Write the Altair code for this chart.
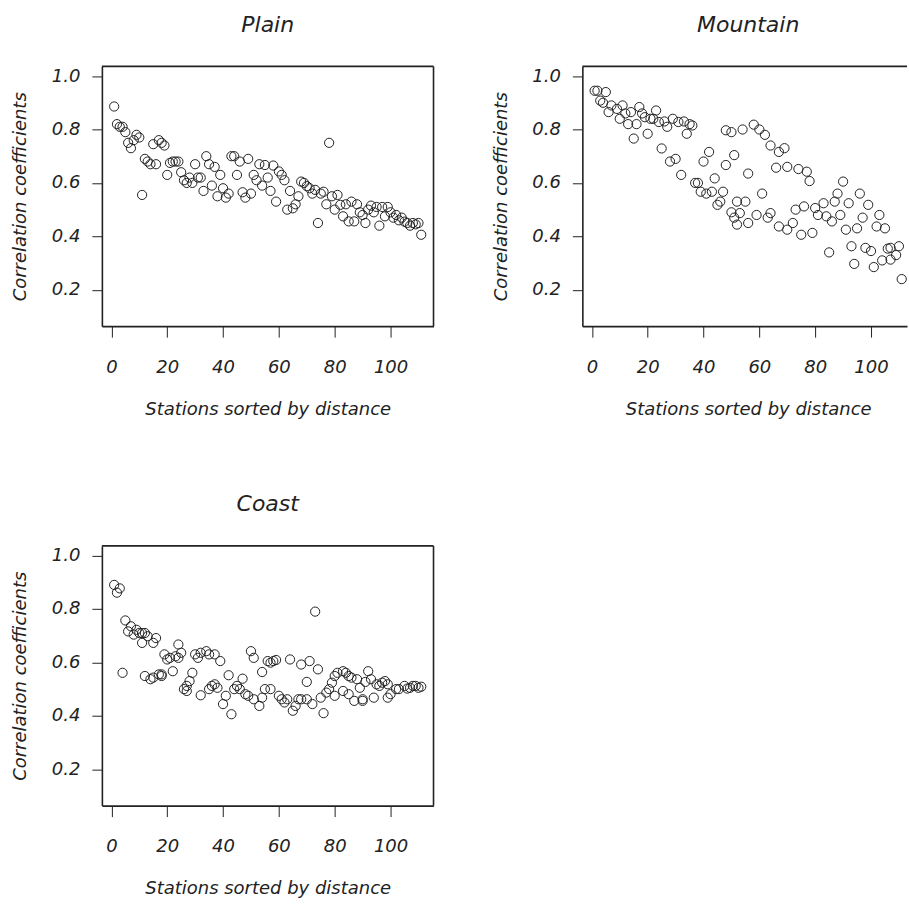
import altair as alt
import pandas as pd

# Correlation of each station with the reference series, stations ordered by distance
plain_station = list(range(1, 112))
plain_corr = [
    0.886, 0.82, 0.81, 0.81, 0.79, 0.75, 0.73, 0.76, 0.78, 0.77,
    0.555, 0.69, 0.68, 0.67, 0.745, 0.67, 0.76, 0.75, 0.74, 0.63,
    0.675, 0.68, 0.68, 0.68, 0.64, 0.61, 0.60, 0.62, 0.60, 0.67,
    0.62, 0.62, 0.57, 0.70, 0.67, 0.59, 0.66, 0.55, 0.63, 0.58,
    0.545, 0.56, 0.70, 0.70, 0.63, 0.68, 0.565, 0.545, 0.69, 0.56,
    0.63, 0.61, 0.67, 0.59, 0.667, 0.62, 0.57, 0.665, 0.53, 0.643,
    0.63, 0.61, 0.50, 0.57, 0.505, 0.52, 0.55, 0.605, 0.60, 0.588,
    0.58, 0.56, 0.574, 0.45, 0.56, 0.567, 0.52, 0.75, 0.55, 0.50,
    0.555, 0.518, 0.475, 0.52, 0.456, 0.53, 0.456, 0.52, 0.49, 0.48,
    0.45, 0.50, 0.515, 0.49, 0.51, 0.44, 0.51, 0.475, 0.51, 0.49,
    0.47, 0.48, 0.46, 0.47, 0.455, 0.45, 0.44, 0.45, 0.445, 0.45,
    0.406,
]

mountain_station = [
    1, 2, 3, 4, 5, 6, 7, 9, 10, 11, 12, 13, 14, 15, 16, 17, 18, 19, 20, 21,
    22, 23, 24, 25, 26, 27, 28, 29, 30, 31, 32, 33, 34, 35, 36, 37, 38, 39, 40, 41,
    42, 43, 44, 45, 46, 47, 48, 48, 50, 50, 51, 51, 52, 52, 53, 54, 55, 56, 56, 58,
    59, 60, 61, 62, 63, 64, 64, 66, 67, 67, 69, 70, 70, 72, 73, 74, 75, 76, 77, 78,
    79, 80, 81, 83, 84, 85, 86, 87, 88, 89, 90, 91, 92, 93, 94, 95, 96, 97, 98, 99,
    100, 101, 102, 103, 104, 105, 106, 107, 107, 109, 110, 111,
]
mountain_corr = [
    0.945, 0.945, 0.908, 0.90, 0.94, 0.865, 0.89, 0.877, 0.84, 0.89,
    0.86, 0.82, 0.865, 0.766, 0.82, 0.884, 0.86, 0.846, 0.784, 0.84,
    0.84, 0.871, 0.828, 0.729, 0.83, 0.81, 0.68, 0.84, 0.69, 0.828,
    0.63, 0.83, 0.784, 0.82, 0.815, 0.60, 0.60, 0.567, 0.68, 0.56,
    0.716, 0.567, 0.617, 0.518, 0.53, 0.567, 0.797, 0.667, 0.49, 0.79,
    0.704, 0.47, 0.444, 0.53, 0.487, 0.80, 0.53, 0.635, 0.45, 0.818,
    0.48, 0.80, 0.56, 0.78, 0.47, 0.487, 0.74, 0.657, 0.716, 0.437,
    0.73, 0.425, 0.66, 0.45, 0.50, 0.652, 0.406, 0.512, 0.642, 0.607,
    0.413, 0.506, 0.48, 0.524, 0.475, 0.34, 0.456, 0.53, 0.56, 0.48,
    0.605, 0.425, 0.524, 0.363, 0.297, 0.43, 0.56, 0.47, 0.357, 0.518,
    0.345, 0.285, 0.437, 0.48, 0.31, 0.43, 0.354, 0.357, 0.313, 0.33,
    0.363, 0.24,
]

coast_station = [
    1, 2, 3, 4, 5, 6, 7, 8, 9, 10, 11, 11, 12, 12, 13, 14, 15, 15, 16, 17,
    18, 18, 19, 20, 21, 22, 23, 24, 24, 25, 26, 27, 27, 28, 29, 30, 31, 32, 32, 34,
    35, 35, 36, 37, 37, 38, 39, 40, 41, 42, 43, 44, 45, 46, 47, 48, 49, 50, 51, 51,
    53, 54, 54, 55, 56, 57, 57, 58, 59, 60, 61, 62, 63, 64, 65, 66, 67, 68, 68, 70,
    70, 71, 72, 73, 74, 75, 76, 77, 78, 79, 80, 80, 81, 83, 83, 84, 85, 85, 86, 87,
    88, 89, 90, 90, 91, 92, 93, 94, 95, 96, 97, 98, 99, 99, 100, 102, 103, 105, 106, 107,
    108, 109, 110, 111,
]
coast_corr = [
    0.89, 0.861, 0.877, 0.561, 0.757, 0.716, 0.735, 0.704, 0.722, 0.71,
    0.71, 0.673, 0.71, 0.549, 0.698, 0.537, 0.673, 0.543, 0.691, 0.555,
    0.549, 0.555, 0.63, 0.611, 0.617, 0.567, 0.623, 0.617, 0.667, 0.636,
    0.50, 0.512, 0.493, 0.53, 0.561, 0.63, 0.617, 0.636, 0.477, 0.642,
    0.63, 0.50, 0.512, 0.63, 0.518, 0.505, 0.605, 0.444, 0.475, 0.552,
    0.406, 0.50, 0.512, 0.50, 0.539, 0.481, 0.475, 0.642, 0.462, 0.617,
    0.437, 0.468, 0.564, 0.50, 0.605, 0.599, 0.50, 0.605, 0.609, 0.475,
    0.462, 0.45, 0.462, 0.611, 0.419, 0.437, 0.462, 0.592, 0.462, 0.527,
    0.462, 0.605, 0.444, 0.79, 0.574, 0.468, 0.41, 0.487, 0.50, 0.524,
    0.549, 0.475, 0.561, 0.567, 0.493, 0.561, 0.549, 0.481, 0.543, 0.456,
    0.537, 0.505, 0.456, 0.462, 0.527, 0.567, 0.537, 0.468, 0.518, 0.512,
    0.524, 0.53, 0.518, 0.468, 0.481, 0.50, 0.50, 0.512, 0.502, 0.505,
    0.512, 0.512, 0.505, 0.509,
]

x_ticks = [0, 20, 40, 60, 80, 100]
y_ticks = [0.2, 0.4, 0.6, 0.8, 1.0]

FONT = "DejaVu Sans"
INK = "#222222"
H = 260
FULL_W = 332
X_MIN = -3.4
PX_PER_STATION = FULL_W / (115.4 - X_MIN)


def panel(title, station, corr, width, right_edge=True, title_dx=0):
    df = pd.DataFrame({"station": station, "corr": corr})
    x_max = X_MIN + width / PX_PER_STATION
    points = alt.Chart(df).mark_point(
        shape="circle", filled=False, size=85, strokeWidth=1, color=INK, opacity=1
    ).encode(
        x=alt.X(
            "station:Q",
            scale=alt.Scale(domain=[X_MIN, x_max], nice=False, zero=False),
            axis=alt.Axis(
                values=x_ticks, format="d", title="Stations sorted by distance",
                tickSize=11, labelPadding=21, titleX=FULL_W / 2, titleY=83,
                titleBaseline="middle", titleAlign="center",
            ),
        ),
        y=alt.Y(
            "corr:Q",
            scale=alt.Scale(domain=[0.064, 1.036], nice=False, zero=False),
            axis=alt.Axis(
                values=y_ticks, format=".1f", title="Correlation coefficients",
                tickSize=10, labelPadding=12, titleX=-81, titleY=H / 2,
                titleBaseline="middle", titleAlign="center", titleAngle=270,
            ),
        ),
    )
    edge = alt.Chart(pd.DataFrame({"k": [0]}))
    layers = [
        points,
        edge.mark_rule(color=INK, strokeWidth=1.6).encode(
            x=alt.value(0), x2=alt.value(width), y=alt.value(0)
        ),
    ]
    if right_edge:
        layers.append(
            edge.mark_rule(color=INK, strokeWidth=1.6).encode(
                x=alt.value(width), y=alt.value(0), y2=alt.value(H)
            )
        )
    return alt.layer(*layers).properties(
        width=width,
        height=H,
        title=alt.TitleParams(
            title, font=FONT, fontSize=22, fontStyle="italic", fontWeight="normal",
            color=INK, anchor="middle", baseline="bottom", offset=7, dx=title_dx,
        ),
    )


plain = panel("Plain", plain_station, plain_corr, FULL_W)
mountain = panel("Mountain", mountain_station, mountain_corr, 325,
                 right_edge=False, title_dx=3.5)
coast = panel("Coast", coast_station, coast_corr, FULL_W)

chart = alt.concat(
    plain, mountain, coast,
    columns=2,
    spacing=alt.RowColnumber(row=220, column=149),
    bounds="flush",
).properties(
    padding={"left": 12, "top": 13, "right": 0, "bottom": 0},
    background="white",
).configure_view(
    strokeOpacity=0
).configure_axis(
    grid=False,
    labelFont=FONT, labelFontSize=18, labelFontStyle="italic", labelColor=INK,
    titleFont=FONT, titleFontSize=18, titleFontStyle="italic",
    titleFontWeight="normal", titleColor=INK,
    domainColor=INK, domainWidth=1.6, tickColor=INK, tickWidth=1,
)

chart.save("out.html", embed_options={"renderer": "svg", "actions": False})
